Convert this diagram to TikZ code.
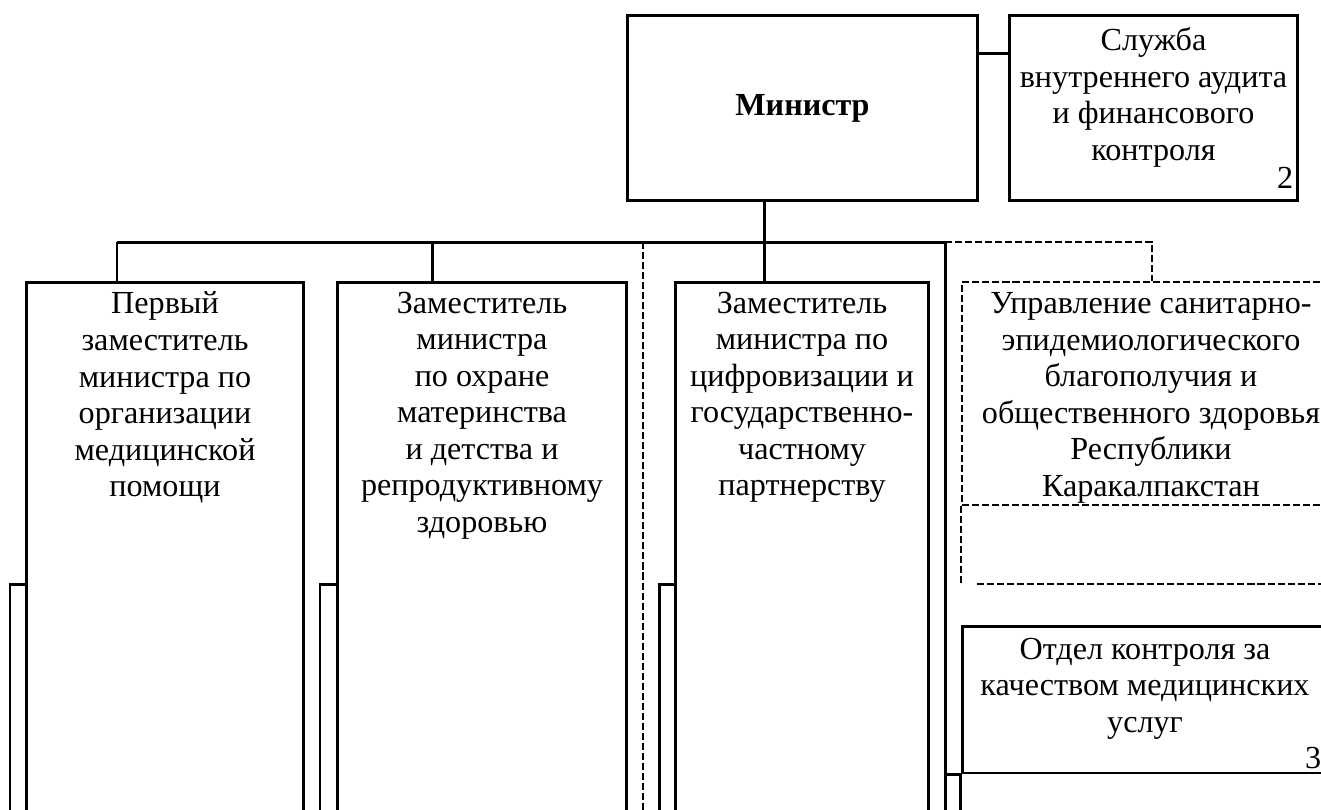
\documentclass[tikz,border=0pt]{standalone}
\usepackage{fontspec}
\setmainfont{Liberation Serif}
\usetikzlibrary{positioning}

\tikzset{
  unit/.style={draw, line width=1.7pt, inner sep=0pt},
  dunit/.style={draw, line width=1.1pt, dash pattern=on 4pt off 1.7pt, inner sep=0pt},
  txt/.style={align=center, inner sep=0pt, font=\fontsize{18.3}{20.8}\selectfont},
  num/.style={inner sep=0pt, font=\fontsize{18.3}{20.8}\selectfont},
  link/.style={line width=1.7pt},
  dlink/.style={line width=1.1pt, dash pattern=on 4pt off 1.7pt},
}

\begin{document}
\begin{tikzpicture}[x=0.02cm, y=-0.02cm]
  \useasboundingbox (0,0) rectangle (1321,809);
  \clip (0,0) rectangle (1321,809);

  % top level
  \node[unit, minimum width=7.02cm, minimum height=3.72cm] (min) at (802.5,108)
    {\fontsize{18.3}{20.8}\selectfont\bfseries Министр};
  \node[unit, minimum width=5.78cm, minimum height=3.72cm] (audit) at (1153.5,108) {};
  \node[txt, below=0.28cm of audit.north] (auditt)
    {Служба\\внутреннего аудита\\и финансового\\контроля};
  \node[num, above left=0.28cm and 0.12cm of audit.south east] (audn) {2};

  % deputies
  \node[unit, minimum width=5.56cm, minimum height=10.96cm] (dep1) at (165,556) {};
  \node[unit, minimum width=5.80cm, minimum height=10.96cm] (dep2) at (482,556) {};
  \node[unit, minimum width=5.08cm, minimum height=10.96cm] (dep3) at (802,556) {};
  \node[txt, below=0.22cm of dep1.north] (dep1t)
    {Первый\\заместитель\\министра по\\организации\\медицинской\\помощи};
  \node[txt, below=0.22cm of dep2.north] (dep2t)
    {Заместитель\\министра\\по охране\\материнства\\и детства и\\репродуктивному\\здоровью};
  \node[txt, below=0.22cm of dep3.north] (dep3t)
    {Заместитель\\министра по\\цифровизации и\\государственно-\\частному\\партнерству};

  % right column
  \node[dunit, minimum width=7.56cm, minimum height=4.46cm] (sanit) at (1151,393.5) {};
  \node[txt, below=0.22cm of sanit.north] (sanitt)
    {Управление санитарно-\\эпидемиологического\\благополучия и\\общественного здоровья\\Республики\\Каракалпакстан};
  \node[unit, minimum width=7.56cm, minimum height=2.94cm] (qual) at (1151,699.5) {};
  \node[txt, below=0.26cm of qual.north, xshift=-0.12cm] (qualt)
    {Отдел контроля за\\качеством медицинских\\услуг};
  \node[num, above left=0.1cm and 0.4cm of qual.south east] (qualn) {3};

  % bus points
  \coordinate (b1) at (117,242);
  \coordinate (b2) at (432,242);
  \coordinate (b3) at (764,242);
  \coordinate (b4) at (945,242);
  \coordinate (b5) at (1152,242);
  \coordinate (d0) at (643,242);
  \coordinate (bot) at (0,830);
  \coordinate (s1) at (10,584);
  \coordinate (s2) at (320,584);
  \coordinate (s3) at (659,584);

  % connectors
  \draw[link] ([yshift=-0.8cm]min.north east) -- ([yshift=-0.8cm]audit.north west);
  \draw[link] (min.south -| b3) -- (b3);
  \draw[link] (b1) -- (b4);
  \draw[link] (b1) -- (b1 |- dep1.north);
  \draw[link] (b2) -- (b2 |- dep2.north);
  \draw[link] (b3) -- (b3 |- dep3.north);
  \draw[link] (b4) -- (b4 |- bot);
  \draw[dlink] (b4) -- (b5) -- (b5 |- sanit.north);
  \draw[dlink] (d0) -- (d0 |- bot);
  \draw[dlink] (sanit.south west) -- ++(0,77);
  \draw[dlink] ([xshift=0.32cm]sanit.south west |- s1) -- (sanit.south east |- s1);
  \draw[link] (b4 |- qual.south) -- (qual.south west) -- (qual.south west |- bot);

  % lower units, cut off
  \draw[link] (s1 -| dep1.west) -- (s1) -- (s1 |- bot);
  \draw[link] (s2 -| dep2.west) -- (s2) -- (s2 |- bot);
  \draw[link] (s3 -| dep3.west) -- (s3) -- (s3 |- bot);
\end{tikzpicture}
\end{document}
